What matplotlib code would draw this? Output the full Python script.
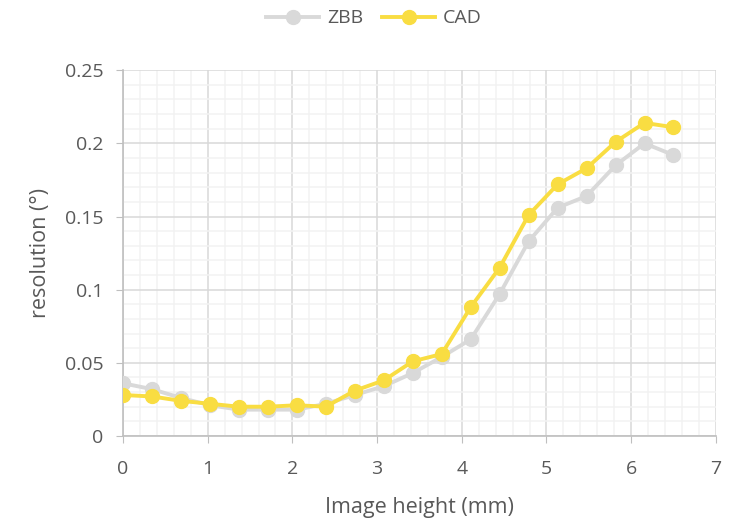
import matplotlib.pyplot as plt
from matplotlib.ticker import MultipleLocator, FuncFormatter

# data
image_height = [0, 0.342, 0.684, 1.026, 1.368, 1.711, 2.053, 2.395, 2.737, 3.079,
                3.421, 3.763, 4.105, 4.447, 4.789, 5.132, 5.474, 5.816, 6.158, 6.5]
zbb = [0.036, 0.032, 0.026, 0.021, 0.018, 0.018, 0.018, 0.022, 0.028, 0.034,
       0.043, 0.054, 0.066, 0.097, 0.133, 0.156, 0.164, 0.185, 0.200, 0.192]
cad = [0.028, 0.027, 0.024, 0.022, 0.020, 0.020, 0.021, 0.020, 0.031, 0.038,
       0.051, 0.056, 0.088, 0.115, 0.151, 0.172, 0.183, 0.201, 0.214, 0.211]

plt.rcParams["font.family"] = ["Open Sans", "DejaVu Sans"]
text_col = "#595959"

fig = plt.figure(figsize=(7.48, 5.24), dpi=100)
ax = fig.add_axes([0.1645, 0.168, 0.7925, 0.698])

ax.plot(image_height, zbb, color="#D9D9D9", lw=2.8, marker="o", ms=10, label="ZBB", zorder=3)
ax.plot(image_height, cad, color="#F9DD42", lw=2.8, marker="o", ms=10, label="CAD", zorder=4)

ax.set_xlim(0, 7)
ax.set_ylim(0, 0.25)
ax.xaxis.set_major_locator(MultipleLocator(1))
ax.xaxis.set_minor_locator(MultipleLocator(0.2))
ax.yaxis.set_major_locator(MultipleLocator(0.05))
ax.yaxis.set_minor_locator(MultipleLocator(0.01))
ax.yaxis.set_major_formatter(FuncFormatter(lambda v, p: f"{v:.2f}".rstrip("0").rstrip(".")))

ax.grid(which="major", color="#D9D9D9", lw=1.1)
ax.grid(which="minor", color="#F2F2F2", lw=1.1)
ax.set_axisbelow(True)

for s in ["top", "right"]:
    ax.spines[s].set_visible(False)
for s in ["left", "bottom"]:
    ax.spines[s].set_color("#BFBFBF")
    ax.spines[s].set_linewidth(1.2)

ax.tick_params(which="major", direction="out", length=5, color="#BFBFBF",
               labelsize=14, labelcolor=text_col)
ax.tick_params(axis="x", which="major", pad=12)
ax.tick_params(axis="y", which="major", pad=9)
ax.tick_params(which="minor", length=0)

ax.set_xlabel("Image height (mm)", fontsize=15.5, color=text_col, labelpad=14)
ax.set_ylabel("resolution (°)", fontsize=15.5, color=text_col, labelpad=10)

fig.legend(*ax.get_legend_handles_labels(), loc="center", bbox_to_anchor=(0.5, 0.965),
           ncol=2, frameon=False, fontsize=14, labelcolor=text_col, handlelength=2.7,
           columnspacing=1.0, handletextpad=0.4)

fig.savefig("out.png", dpi=100)
